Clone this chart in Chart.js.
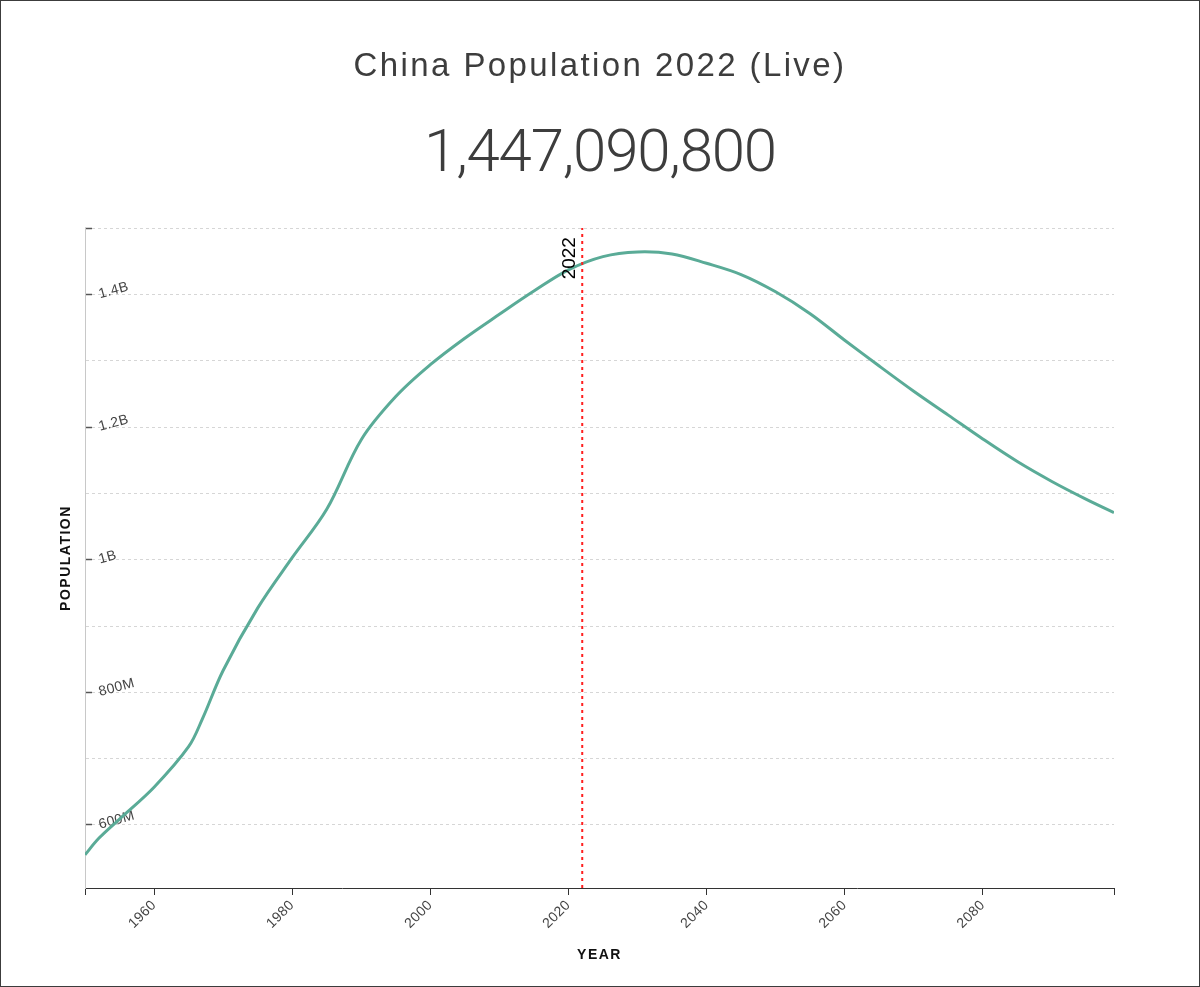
<!DOCTYPE html>
<html>
<head>
<meta charset="utf-8">
<script src="https://cdn.jsdelivr.net/npm/chart.js@4.4.1/dist/chart.umd.min.js"></script>
<style>
  html, body { margin: 0; padding: 0; background: #fff; }
  #wrap { position: absolute; left: 0; top: 0; width: 1200px; height: 987px; box-sizing: border-box; border: 1px solid #3c3c3c; background: #fff; }
  canvas { display: block; }
</style>
</head>
<body>
<div id="wrap"><canvas id="c" width="1198" height="985"></canvas></div>
<script>
// ---- data (population in millions) ----
const titleText = 'China Population 2022 (Live)';
const liveCount = '1,447,090,800';
const years = [1950, 1952, 1955, 1960, 1965, 1967, 1970, 1975, 1980, 1985, 1990, 1995, 2000, 2005,
  2010, 2015, 2020, 2025, 2030, 2035, 2040, 2045, 2050, 2055, 2060, 2065, 2070, 2075, 2080,
  2085, 2090, 2095, 2099];
const population = [555, 580, 609, 657, 718, 760, 833, 927, 1003, 1076, 1181, 1246, 1294, 1334,
  1370, 1405, 1437, 1457, 1464, 1461, 1447, 1430, 1404, 1371, 1331, 1292, 1254, 1218, 1182,
  1148, 1118, 1091, 1071];
const markerYear = 2022;
const xTickYears = [1950, 1960, 1980, 2000, 2020, 2040, 2060, 2080, 2099];
const yGridValues = [600, 700, 800, 900, 1000, 1100, 1200, 1300, 1400, 1500];
const yLabelValues = [600, 800, 1000, 1200, 1400];
const yMin = 505;
const yMax = 1500;

const FONT = '"Liberation Sans", Arial, Helvetica, sans-serif';

function fmtPop(v) {
  return v >= 1000 ? (v / 1000) + 'B' : v + 'M';
}

function spaced(obj, name, ls) {
  const orig = obj[name];
  obj[name] = function (...args) {
    const c = this.ctx;
    c.save();
    c.letterSpacing = ls;
    try { return orig.apply(this, args); } finally { c.restore(); }
  };
}

const spacingPlugin = {
  id: 'letterSpacing',
  afterLayout(chart) {
    for (const b of chart.boxes) {
      if (b.__ls) continue;
      if (b.options && b.options.text === titleText) { spaced(b, 'draw', '2.4px'); b.__ls = 1; }
      else if (b.options && b.options.text === liveCount) { spaced(b, 'draw', '-1.2px'); b.__ls = 1; }
      else if (b.id === 'x' || b.id === 'y') {
        spaced(b, 'drawTitle', '1.5px');
        spaced(b, 'drawLabels', '0.4px');
        b.__ls = 1;
      }
    }
  }
};

const markerLabel = {
  id: 'markerLabel',
  afterDatasetsDraw(chart) {
    const { ctx, chartArea, scales } = chart;
    const px = scales.x.getPixelForValue(markerYear);
    ctx.save();
    ctx.translate(px - 7, chartArea.top + 9);
    ctx.rotate(-Math.PI / 2);
    ctx.font = '19px ' + FONT;
    ctx.fillStyle = '#000';
    ctx.textAlign = 'right';
    ctx.textBaseline = 'alphabetic';
    ctx.fillText(String(markerYear), 0, 0);
    ctx.restore();
  }
};

new Chart(document.getElementById('c').getContext('2d'), {
  type: 'line',
  data: {
    datasets: [
      {
        label: 'Current year',
        data: [{ x: markerYear, y: yMin }, { x: markerYear, y: yMax }],
        borderColor: '#ff1f1f',
        borderWidth: 2,
        borderDash: [3, 4],
        pointRadius: 0,
        tension: 0,
        order: 0
      },
      {
        label: 'Population',
        data: years.map((y, i) => ({ x: y, y: population[i] })),
        borderColor: '#5aab97',
        borderWidth: 3,
        pointRadius: 0,
        tension: 0.35,
        order: 1
      }
    ]
  },
  options: {
    responsive: false,
    animation: false,
    devicePixelRatio: 1,
    layout: { padding: 0 },
    plugins: {
      legend: { display: false },
      tooltip: { enabled: false },
      title: {
        display: true,
        text: titleText,
        color: '#3d3d3d',
        font: { family: FONT, size: 33, weight: 'normal' },
        padding: { top: 46, bottom: 0 }
      },
      subtitle: {
        display: true,
        text: liveCount,
        color: '#3d3d3d',
        font: { family: 'Roboto, sans-serif', size: 60, weight: '300' },
        padding: { top: 33, bottom: 36.5 }
      }
    },
    scales: {
      x: {
        type: 'linear',
        min: 1950,
        max: 2099,
        afterBuildTicks: s => { s.ticks = xTickYears.map(v => ({ value: v })); },
        afterFit: s => { s.height = 98; },
        grid: { drawOnChartArea: false, drawTicks: true, tickLength: 7, tickColor: '#333', tickWidth: 1 },
        border: { display: true, color: '#333', width: 1 },
        ticks: {
          autoSkip: false,
          minRotation: 45,
          maxRotation: 45,
          padding: 2,
          color: '#444',
          font: { family: FONT, size: 14 },
          callback: v => (v === xTickYears[0] || v === xTickYears[xTickYears.length - 1]) ? '' : String(v)
        },
        title: {
          display: true,
          text: 'YEAR',
          color: '#111',
          font: { family: FONT, size: 14, weight: 'bold' },
          padding: { top: 0, bottom: 22.6 }
        }
      },
      y: {
        type: 'linear',
        min: yMin,
        max: yMax,
        afterBuildTicks: s => { s.ticks = yGridValues.map(v => ({ value: v })); },
        afterFit: s => { s.width = 84; },
        grid: {
          color: '#d6d6d6',
          lineWidth: 1,
          drawTicks: true,
          tickLength: -7,
          tickWidth: 1.5,
          tickBorderDash: [],
          tickColor: c => (c.tick && (yLabelValues.includes(c.tick.value) || c.tick.value === yMax)) ? '#555' : 'rgba(0,0,0,0)'
        },
        border: { display: true, color: '#c8c8c8', width: 1, dash: [3, 3] },
        ticks: {
          mirror: true,
          padding: 14,
          minRotation: 15,
          maxRotation: 15,
          color: '#444',
          font: { family: FONT, size: 14 },
          callback: v => yLabelValues.includes(v) ? fmtPop(v) : ''
        },
        title: {
          display: true,
          text: 'POPULATION',
          color: '#111',
          font: { family: FONT, size: 14, weight: 'bold' },
          padding: { top: 56.6, bottom: 0 }
        }
      },
      yRight: {
        type: 'linear',
        position: 'right',
        display: true,
        afterFit: s => { s.width = 85; },
        grid: { display: false, drawOnChartArea: false, drawTicks: false },
        border: { display: false },
        ticks: { display: false },
        title: { display: false }
      }
    }
  },
  plugins: [spacingPlugin, markerLabel]
});
</script>
</body>
</html>
